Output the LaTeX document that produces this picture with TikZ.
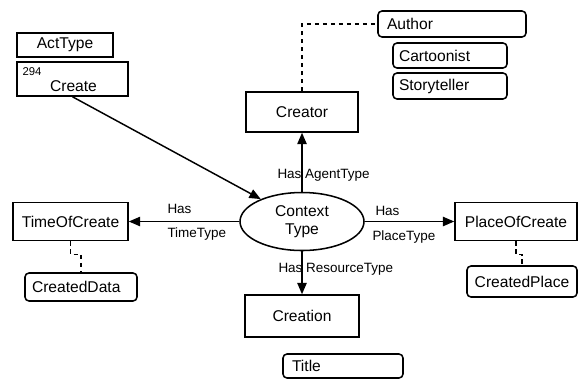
\documentclass[tikz,border=0pt]{standalone}
\usepackage{fontspec}
\setmainfont{Liberation Sans}
\usetikzlibrary{shapes.geometric,arrows.meta}

\newcommand{\boxfont}{\fontsize{11.7}{14}\selectfont}
\newcommand{\edgefont}{\fontsize{10.1}{12}\selectfont}
\newcommand{\numfont}{\fontsize{8.5}{10}\selectfont}

\tikzset{every picture/.style={line width=0.75pt}}
\tikzset{
  box/.style={draw, rectangle, line width=1.15pt, inner sep=0pt, font=\boxfont},
  rbox/.style={box, rounded corners=3pt},
  arr/.style={line width=1.1pt, -{Triangle[length=8.5pt,width=7pt]}},
  dash link/.style={line width=1.1pt, dash pattern=on 3.5pt off 2.5pt},
  edgelabel/.style={inner sep=0pt, font=\edgefont}
}

\begin{document}
\begin{tikzpicture}[x=0.75pt,y=0.75pt,yscale=-1,xscale=1]
\path[use as bounding box] (0,0) rectangle (581,383);

%Shape: Rectangle
\node [box, minimum width=72pt, minimum height=18pt] (acttype) at (65,45) {ActType};
%Shape: Rectangle
\node [box, minimum width=83.25pt, minimum height=25.5pt] (create) at (72.5,79) {};
% Text Node
\node [anchor=north west, inner sep=0pt, font=\numfont] (num) at (22,67) {294};
% Text Node
\node [inner sep=0pt, font=\boxfont] (createlbl) at (73.5,86) {Create};

%Rounded Rect
\node [rbox, minimum height=19.5pt, text width=97.5pt, inner xsep=6.75pt, align=left] (author) at (452,24) {Author};
%Rounded Rect
\node [rbox, minimum height=18.75pt, text width=76.5pt, inner xsep=4.5pt, align=left] (cartoonist) at (450,55.5) {Cartoonist};
%Rounded Rect
\node [rbox, minimum height=19.5pt, text width=76.5pt, inner xsep=4.5pt, align=left] (storyteller) at (450,86) {Storyteller};

%Shape: Rectangle
\node [box, minimum width=84pt, minimum height=30pt] (creator) at (302,112) {Creator};
%Shape: Ellipse
\node [box, ellipse, minimum width=93pt, minimum height=43.5pt, align=center] (ctx) at (302,221.5) {Context\\Type};
%Shape: Rectangle
\node [box, minimum width=86.25pt, minimum height=28.5pt] (timeofcreate) at (70.5,221.5) {TimeOfCreate};
%Shape: Rectangle
\node [box, minimum width=91.5pt, minimum height=28.5pt] (placeofcreate) at (516,221.5) {PlaceOfCreate};
%Shape: Rectangle
\node [box, minimum width=85.5pt, minimum height=31.5pt] (creation) at (302,316) {Creation};

%Rounded Rect
\node [rbox, minimum height=21pt, text width=73.5pt, inner xsep=5.25pt, align=left] (createddata) at (81,287) {CreatedData};
%Rounded Rect
\node [rbox, minimum width=82.5pt, minimum height=23.25pt] (createdplace) at (522,281.5) {CreatedPlace};
%Rounded Rect
\node [rbox, minimum height=18pt, text width=76.5pt, inner xsep=6.75pt, align=left] (title) at (343,366) {Title};

%Straight Lines
\draw [arr] (create.south) -- (ctx);
%Straight Lines
\draw [arr] (ctx.north) -- (creator.south);
%Straight Lines
\draw [arr] (ctx.south) -- (creation.north);
%Straight Lines
\draw [arr] (ctx.west) -- (timeofcreate.east);
%Straight Lines
\draw [arr] (ctx.east) -- (placeofcreate.west);

%Dashed Lines
\draw [dash link] (creator.north) |- (author.west);
%Dashed Lines
\draw [dash link] (timeofcreate.south) -- ++(0,13) -| (createddata.north);
%Dashed Lines
\draw [dash link] (placeofcreate.south) -- ++(0,13) -| (createdplace.north);

% Text Node
\node [edgelabel, anchor=base west] (agentlbl) at (277,178) {Has AgentType};
% Text Node
\node [edgelabel, anchor=base west] (resourcelbl) at (278,272.5) {Has ResourceType};
% Text Node
\node [edgelabel, anchor=base west] (timehas) at (167,213) {Has};
% Text Node
\node [edgelabel, anchor=base west] (timelbl) at (167,237.5) {TimeType};
% Text Node
\node [edgelabel, anchor=base west] (placehas) at (375,215.5) {Has};
% Text Node
\node [edgelabel, anchor=base west] (placelbl) at (372,240) {PlaceType};

\end{tikzpicture}
\end{document}
